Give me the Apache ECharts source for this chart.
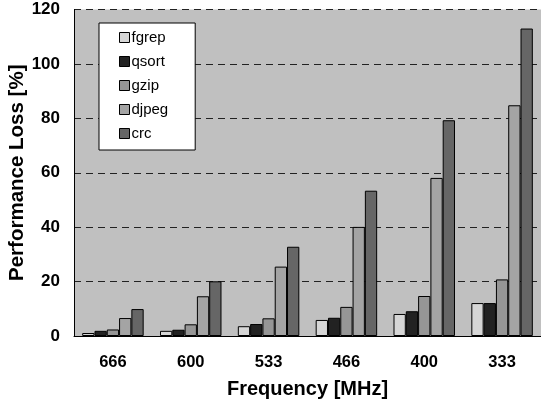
<!DOCTYPE html>
<html>
<head>
<meta charset="utf-8">
<script src="https://cdn.jsdelivr.net/npm/echarts@6/dist/echarts.min.js"></script>
<style>
html,body{margin:0;padding:0;background:#fff;}
#chart{width:541px;height:406px;}
</style>
</head>
<body>
<div id="chart"></div>
<script>
const categories = ['666', '600', '533', '466', '400', '333'];
const fgrep = [1.1, 1.9, 3.6, 5.9, 8.1, 12.1];
const qsort = [1.9, 2.3, 4.4, 6.7, 9.1, 12.1];
const gzip  = [2.4, 4.3, 6.5, 10.7, 14.7, 20.8];
const djpeg = [6.6, 14.6, 25.5, 40.1, 58.1, 84.8];
const crc   = [9.9, 20.1, 32.8, 53.4, 79.3, 113.0];
const seriesNames = ['fgrep', 'qsort', 'gzip', 'djpeg', 'crc'];
const seriesColors = ['#d6d6d6', '#222222', '#969696', '#a4a4a4', '#666666'];
const seriesData = [fgrep, qsort, gzip, djpeg, crc];

const chart = echarts.init(document.getElementById('chart'), null, {renderer: 'canvas'});
const font = '"Liberation Sans", Arial, sans-serif';
chart.setOption({
  animation: false,
  backgroundColor: '#ffffff',
  textStyle: {fontFamily: font},
  grid: {left: 74, top: 9.5, right: 0, bottom: 70, show: true, backgroundColor: '#c0c0c0', borderWidth: 0,
         containLabel: false, outerBoundsMode: 'none'},
  legend: {
    orient: 'vertical', left: 99, top: 23,
    backgroundColor: '#ffffff', borderColor: '#000', borderWidth: 1,
    padding: [7, 27, 9, 20],
    itemWidth: 10, itemHeight: 10, itemGap: 9,
    icon: 'rect',
    itemStyle: {borderColor: '#000', borderWidth: 1},
    textStyle: {fontFamily: font, fontSize: 15, color: '#000', lineHeight: 15, padding: [0, 0, 0, -3]},
    data: seriesNames
  },
  xAxis: {
    type: 'category', data: categories,
    name: 'Frequency [MHz]', nameLocation: 'middle', nameGap: 43, nameMoveOverlap: false,
    nameTextStyle: {fontFamily: font, fontSize: 20, fontWeight: 'bold', color: '#000'},
    axisLine: {lineStyle: {color: '#000', width: 1}},
    axisTick: {inside: true, length: 4, lineStyle: {color: '#333'}},
    axisLabel: {margin: 18, fontFamily: font, fontSize: 16.5, fontWeight: 'bold', color: '#000'}
  },
  yAxis: {
    type: 'value', min: 0, max: 120, interval: 20,
    name: 'Performance Loss [%]', nameLocation: 'middle', nameGap: 46, nameMoveOverlap: false,
    nameTextStyle: {fontFamily: font, fontSize: 20.5, fontWeight: 'bold', color: '#000'},
    axisLine: {show: true, lineStyle: {color: '#000', width: 1}},
    axisTick: {show: false},
    axisLabel: {margin: 14, fontFamily: font, fontSize: 17, fontWeight: 'bold', color: '#000'},
    splitLine: {lineStyle: {color: '#222', type: [7, 5], width: 1}}
  },
  series: seriesNames.map((n, i) => ({
    name: n, type: 'bar', data: seriesData[i],
    barGap: '0%', barCategoryGap: '21%',
    itemStyle: {color: seriesColors[i], borderColor: '#000', borderWidth: 1}
  }))
});
</script>
</body>
</html>
